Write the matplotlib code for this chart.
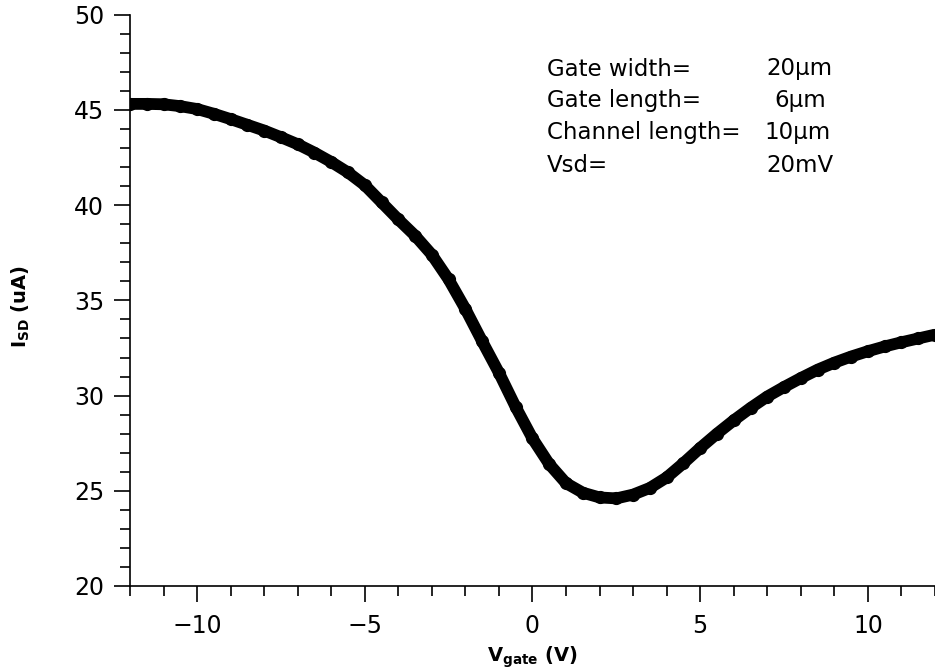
import matplotlib
matplotlib.use("Agg")
import matplotlib.pyplot as plt
from matplotlib.ticker import MultipleLocator

# gate sweep: source-drain current vs gate voltage
v_gate = [-12.0, -11.5, -11.0, -10.5, -10.0, -9.5, -9.0, -8.5, -8.0, -7.5,
          -7.0, -6.5, -6.0, -5.5, -5.0, -4.5, -4.0, -3.5, -3.0, -2.5,
          -2.0, -1.5, -1.0, -0.5, 0.0, 0.5, 1.0, 1.5, 2.0, 2.5,
          3.0, 3.5, 4.0, 4.5, 5.0, 5.5, 6.0, 6.5, 7.0, 7.5,
          8.0, 8.5, 9.0, 9.5, 10.0, 10.5, 11.0, 11.5, 12.0]
i_sd = [45.32, 45.32, 45.30, 45.20, 45.05, 44.80, 44.52, 44.22, 43.92, 43.57,
        43.20, 42.76, 42.27, 41.72, 41.05, 40.15, 39.25, 38.40, 37.40, 36.10,
        34.55, 32.85, 31.20, 29.40, 27.75, 26.40, 25.40, 24.90, 24.65, 24.60,
        24.80, 25.15, 25.70, 26.45, 27.25, 28.00, 28.70, 29.35, 29.95, 30.45,
        30.92, 31.36, 31.73, 32.05, 32.33, 32.58, 32.80, 33.00, 33.20]

param_names = ["Gate width=", "Gate length=", "Channel length=", "Vsd="]
param_values = ["20\u00b5m", "6\u00b5m", "10\u00b5m", "20mV"]

fig = plt.figure(figsize=(9.35, 6.72), dpi=100)
ax = fig.add_axes([0.139, 0.128, 0.861, 0.85])

ax.plot(v_gate, i_sd, color="black", lw=8.5, solid_capstyle="butt",
        solid_joinstyle="round", marker="o", ms=8.5)

ax.set_xlim(-12, 12)
ax.set_ylim(20, 50)
ax.xaxis.set_major_locator(MultipleLocator(5))
ax.xaxis.set_minor_locator(MultipleLocator(1))
ax.yaxis.set_major_locator(MultipleLocator(5))
ax.yaxis.set_minor_locator(MultipleLocator(1))

for s in ["top", "right"]:
    ax.spines[s].set_visible(False)
for s in ["left", "bottom"]:
    ax.spines[s].set_linewidth(1.2)

ax.tick_params(which="major", direction="out", length=11.5, width=1.2,
               labelsize=17)
ax.tick_params(axis="y", which="major", pad=7)
ax.tick_params(axis="x", which="major", pad=9)
ax.tick_params(which="minor", direction="out", length=7, width=1.2)

ax.set_xlabel(r"$\mathbf{V_{gate}}$ (V)", fontsize=14, fontweight="bold")
ax.set_ylabel(r"$\mathbf{I_{SD}}$ (uA)", fontsize=14, fontweight="bold")
ax.xaxis.set_label_coords(0.5, -0.102)
ax.yaxis.set_label_coords(-0.122, 0.49)

# device parameters, two columns
name_x = 547 / 935
value_x = [766 / 935, 774 / 935, 764 / 935, 766 / 935]
for k, (name, val) in enumerate(zip(param_names, param_values)):
    yy = 1 - (69 + 32 * k) / 672
    fig.text(name_x, yy, name, fontsize=16.5, va="center", ha="left")
    fig.text(value_x[k], yy, val, fontsize=16.5, va="center", ha="left")

fig.savefig("out.png", dpi=100)
